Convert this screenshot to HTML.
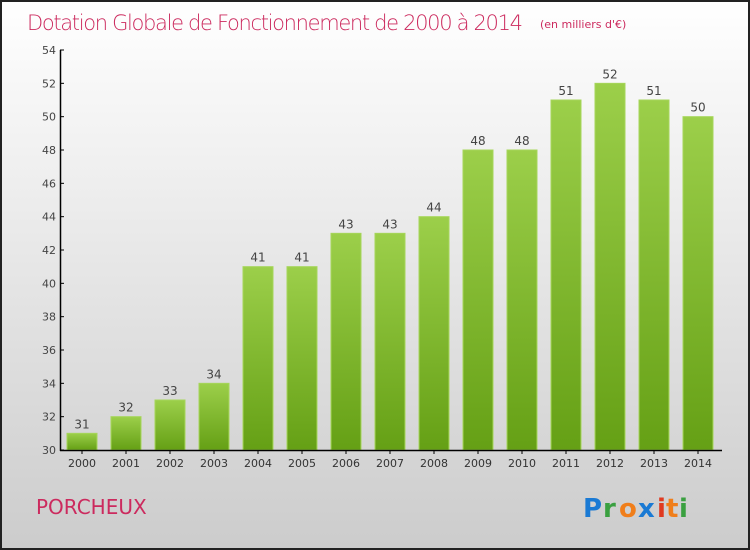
<!DOCTYPE html>
<html><head><meta charset="utf-8"><style>
body{margin:0;}
#c{width:750px;height:550px;position:relative;overflow:hidden;}
text{font-family:"DejaVu Sans","Liberation Sans",sans-serif;}
</style></head><body>
<div id="c">
<svg width="750" height="550" xmlns="http://www.w3.org/2000/svg" id="svg">
<defs>
<linearGradient id="bg" x1="0" y1="0" x2="0" y2="1"><stop offset="0" stop-color="#ffffff"/><stop offset="1" stop-color="#cccccc"/></linearGradient>
<linearGradient id="bar" x1="0" y1="0" x2="0" y2="1"><stop offset="0" stop-color="#9ccf4a"/><stop offset="1" stop-color="#65a015"/></linearGradient>
</defs>
<rect x="1" y="1" width="748" height="548" fill="url(#bg)" stroke="#222" stroke-width="2"/>
<text x="27" y="30" font-size="21" fill="#cc2a5e" style="font-weight:200" textLength="496">Dotation Globale de Fonctionnement de 2000 à 2014</text>
<text x="540" y="28" font-size="11" fill="#cc2a5e">(en milliers d'€)</text>
<g id="plot"></g>
<text x="36" y="514" font-size="20" fill="#cc2a5e">PORCHEUX</text>
<g font-size="26" font-weight="bold" style="font-family:'DejaVu Sans',sans-serif">
<text x="583" y="517" fill="#1a7ad4">P</text><text x="603" y="517" fill="#3aa040">r</text><text x="619" y="517" fill="#f07e1a">o</text><text x="638" y="517" fill="#1a7ad4">x</text><text x="657" y="517" fill="#e03a20">i</text><text x="666" y="517" fill="#f07e1a">t</text><text x="679" y="517" fill="#3aa040">i</text>
</g>
</svg>
</div>
<script>
const categories=["2000","2001","2002","2003","2004","2005","2006","2007","2008","2009","2010","2011","2012","2013","2014"];
const values=[31,32,33,34,41,41,43,43,44,48,48,51,52,51,50];
const yTicks=[30,32,34,36,38,40,42,44,46,48,50,52,54];
const NS="http://www.w3.org/2000/svg";
const g=document.getElementById('plot');
const y=v=>450-(v-30)*400/24;
const x=i=>82+i*44;
function mk(t,a){const e=document.createElementNS(NS,t);for(const k in a)e.setAttribute(k,a[k]);g.appendChild(e);return e;}
categories.forEach((c,i)=>{
  const r=mk('rect',{x:x(i)-15,y:y(values[i]),width:30,height:450-y(values[i]),fill:'url(#bar)',stroke:'#a6d65a','stroke-width':1});
  
  
  const vl=mk('text',{x:x(i),y:y(values[i])-5,'font-size':12,fill:'#444','text-anchor':'middle'});
  vl.textContent=values[i];
  
  
  const xl=mk('text',{x:x(i),y:467,'font-size':11,fill:'#333','text-anchor':'middle'});
  xl.textContent=c;
  
  
  mk('line',{x1:x(i),x2:x(i),y1:450,y2:454,stroke:'#000'});
});
yTicks.forEach(v=>{
  const t=mk('text',{x:56,y:y(v)+4,'font-size':11,fill:'#444','text-anchor':'end'});
  t.textContent=v;
  
  
  mk('line',{x1:60,x2:64,y1:y(v),y2:y(v),stroke:'#000'});
});
const ya=mk('line',{x1:60.5,x2:60.5,y1:50,y2:451,stroke:'#000','stroke-width':1.5});


const xa=mk('line',{x1:60,x2:722,y1:450.5,y2:450.5,stroke:'#000','stroke-width':1.5});


</script>
</body></html>
